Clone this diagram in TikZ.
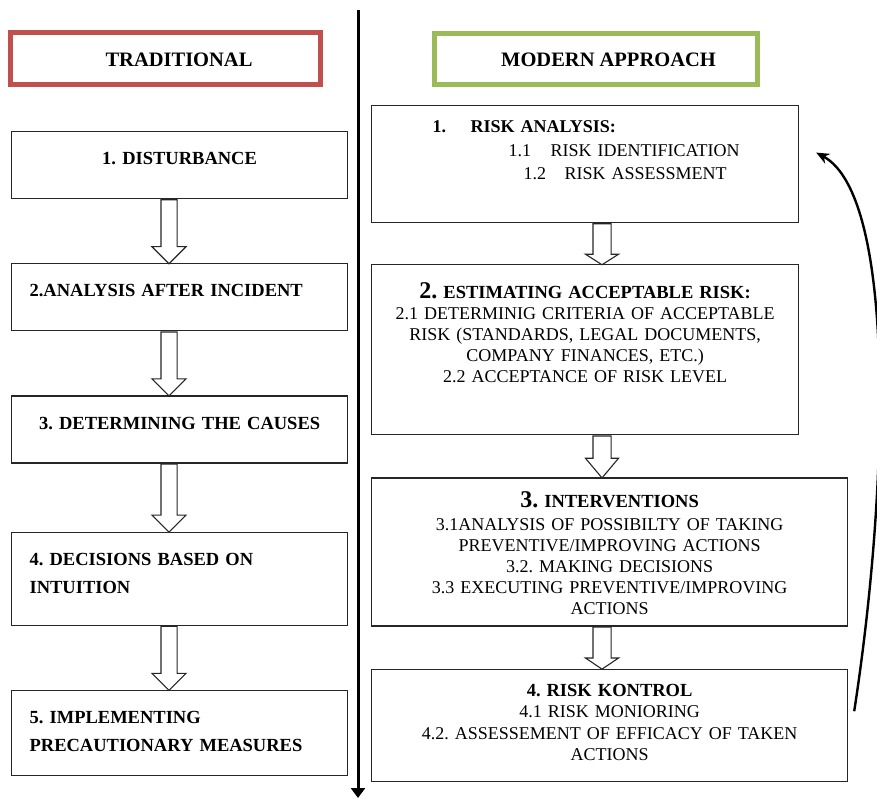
\documentclass[tikz,border=0pt]{standalone}
\usepackage{fontspec}
\setmainfont{Liberation Serif}
\usetikzlibrary{positioning, calc, shapes.arrows, arrows.meta}
\frenchspacing

\definecolor{tradred}{HTML}{C0504D}
\definecolor{modgreen}{HTML}{9BBB59}

\tikzset{
  banner/.style={line width=5pt, minimum height=52pt, inner sep=0pt,
    font=\fontsize{20.5}{24}\selectfont\bfseries, text height=16pt, text depth=0pt},
  stage/.style={draw=black!85, line width=1.2pt, inner xsep=18pt, inner ysep=0pt,
    text width=300pt, align=left, text height=33pt,
    font=\fontsize{18.5}{28}\selectfont\bfseries},
  phase/.style={draw=black!85, line width=1.2pt, inner xsep=4pt, inner ysep=0pt,
    align=center, font=\fontsize{18}{21}\selectfont},
  hollow/.style={single arrow, draw=black!85, fill=white, line width=1.1pt,
    inner xsep=0pt, rotate=-90, anchor=tail},
  lhollow/.style={hollow, inner ysep=7.5pt, single arrow head extend=9pt},
  rhollow/.style={hollow, inner ysep=8.5pt, single arrow head extend=7.5pt},
  divider/.style={line width=3pt, -{Triangle[length=10pt, width=14pt]}},
  feedback/.style={line width=2.4pt, -{Stealth[length=13pt, width=11pt]}}
}

\begin{document}
\begin{tikzpicture}[x=1pt, y=-1pt]
  \useasboundingbox (0,0) rectangle (877,799);

  % column headers
  \node[banner, draw=tradred, minimum width=310pt] (trad) at (165.5,58.5) {\hspace*{27pt}TRADITIONAL};
  \node[banner, draw=modgreen, minimum width=323pt, minimum height=51pt] (modern) at (596,59) {\hspace*{25pt}MODERN APPROACH};

  % divider
  \coordinate (divtop) at (358,10);
  \coordinate (divbot) at (358,798);
  \draw[divider] (divtop) -- (divbot);

  % traditional column
  \node[stage, align=center, text depth=34pt, anchor=north west] (dist) at (11,131) {1. DISTURBANCE};
  \node[stage, text depth=34pt] (anal) [below=64pt of dist] {2.ANALYSIS AFTER INCIDENT};
  \node[stage, align=center, text depth=34pt] (cause) [below=64pt of anal] {3. DETERMINING THE CAUSES};
  \node[stage, text depth=60pt] (intu) [below=68pt of cause] {4. DECISIONS BASED ON\\INTUITION};
  \node[stage, text depth=52pt] (prec) [below=64pt of intu] {5. IMPLEMENTING\\PRECAUTIONARY MEASURES};

  % modern column
  \node[phase, text width=419pt, align=left, font=\fontsize{18}{23.5}\selectfont,
        text height=27pt, text depth=90pt, anchor=north west] (analysis) at (371,105)
    {\hspace*{57pt}\makebox[38pt][l]{\bfseries 1.}\textbf{RISK ANALYSIS:}\\
     \hspace*{133pt}\makebox[42pt][l]{1.1}RISK IDENTIFICATION\\
     \hspace*{148pt}\makebox[41pt][l]{1.2}RISK ASSESSMENT};
  \node[phase, text width=419pt, text height=33.5pt, text depth=136.5pt,
        below=41pt of analysis.south west, anchor=north west] (accept)
    {{\bfseries{\fontsize{24}{21}\selectfont 2.} \fontsize{18.5}{21}\selectfont ESTIMATING ACCEPTABLE RISK:}\\
     2.1 DETERMINIG CRITERIA OF ACCEPTABLE\\
     RISK (STANDARDS, LEGAL DOCUMENTS,\\
     COMPANY FINANCES, ETC.)\\
     2.2 ACCEPTANCE OF RISK LEVEL};
  \node[phase, text width=468pt, text height=29.5pt, text depth=118.5pt,
        below=42pt of accept.south west, anchor=north west] (interv)
    {{\bfseries{\fontsize{24}{21}\selectfont 3.} \fontsize{18.5}{21}\selectfont INTERVENTIONS}\\[2pt]
     3.1ANALYSIS OF POSSIBILTY OF TAKING\\
     PREVENTIVE/IMPROVING ACTIONS\\
     3.2. MAKING DECISIONS\\
     3.3 EXECUTING PREVENTIVE/IMPROVING\\
     ACTIONS};
  \node[phase, text width=468pt, font=\fontsize{18}{21.5}\selectfont, text height=27pt, text depth=85pt,
        below=42pt of interv.south west, anchor=north west] (control)
    {{\bfseries\fontsize{18.5}{21.5}\selectfont 4. RISK KONTROL}\\
     4.1 RISK MONIORING\\
     4.2. ASSESSEMENT OF EFFICACY OF TAKEN\\
     ACTIONS};

  % hollow arrows between the steps
  \coordinate (lane) at (169,0);
  \coordinate (rlane) at (602,0);
  \node[lhollow, minimum height=64pt] (s12) at (dist.south -| lane) {};
  \node[lhollow, minimum height=64pt] (s23) at (anal.south -| lane) {};
  \node[lhollow, minimum height=68pt] (s34) at (cause.south -| lane) {};
  \node[lhollow, minimum height=64pt] (s45) at (intu.south -| lane) {};

  \node[rhollow, minimum height=41pt, single arrow tip angle=115] (p12) at (analysis.south -| rlane) {};
  \node[rhollow, minimum height=42pt, single arrow tip angle=80] (p23) at (accept.south -| rlane) {};
  \node[rhollow, minimum height=42pt, single arrow tip angle=112] (p34) at (interv.south -| rlane) {};

  % back to the start
  \draw[feedback] ([xshift=6pt,yshift=14pt]control.east) .. controls +(35,-227) and +(80,43) .. ([xshift=17pt,yshift=11.5pt]analysis.east);
\end{tikzpicture}
\end{document}
